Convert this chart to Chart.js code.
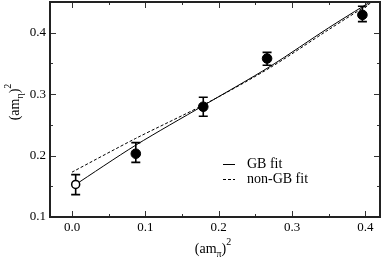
<!DOCTYPE html>
<html>
<head>
<meta charset="utf-8">
<script src="https://cdn.jsdelivr.net/npm/chart.js@4"></script>
<style>
html,body{margin:0;padding:0;background:#fff;}
#wrap{width:382px;height:258px;position:relative;}
</style>
</head>
<body>
<div id="wrap"><canvas id="c" width="382" height="258"></canvas></div>
<script>
// Data
const ptX = [0.087, 0.179, 0.266, 0.396];
const ptY = [0.203, 0.2795, 0.358, 0.429];
const ptLo = [0.189, 0.264, 0.347, 0.418];
const ptHi = [0.221, 0.295, 0.368, 0.443];
const openX = [0.005];
const openY = [0.153];
const openLo = [0.1365];
const openHi = [0.169];
const gbX = [0.0, 0.087, 0.18, 0.27, 0.35, 0.42];
const gbY = [0.149, 0.217, 0.282, 0.345, 0.408, 0.46];
const ngbX = [0.0, 0.087, 0.18, 0.27, 0.35, 0.42];
const ngbY = [0.173, 0.228, 0.283, 0.343, 0.405, 0.458];
const xTicks = [0.0, 0.1, 0.2, 0.3, 0.4];
const yTicks = [0.1, 0.2, 0.3, 0.4];
const legendLabels = ["GB fit", "non-GB fit"];

const FONT = '"Times New Roman", "Liberation Serif", Times, serif';
const toPts = (xs, ys) => xs.map((x, i) => ({x: x, y: ys[i]}));

const framePlugin = {
  id: 'frame',
  beforeDatasetsDraw(chart) {
    const ctx = chart.ctx, xs = chart.scales.x, ys = chart.scales.y;
    ctx.save();
    ctx.strokeStyle = '#000';
    ctx.lineWidth = 1.6;
    const drawErr = (xArr, loArr, hiArr) => {
      xArr.forEach((x, i) => {
        const px = xs.getPixelForValue(x);
        const lo = ys.getPixelForValue(loArr[i]);
        const hi = ys.getPixelForValue(hiArr[i]);
        ctx.beginPath();
        ctx.moveTo(px, lo); ctx.lineTo(px, hi);
        ctx.moveTo(px - 4.5, lo); ctx.lineTo(px + 4.5, lo);
        ctx.moveTo(px - 4.5, hi); ctx.lineTo(px + 4.5, hi);
        ctx.stroke();
      });
    };
    drawErr(ptX, ptLo, ptHi);
    drawErr(openX, openLo, openHi);
    ctx.restore();
  },
  afterDraw(chart) {
    const ctx = chart.ctx, a = chart.chartArea, xs = chart.scales.x, ys = chart.scales.y;
    ctx.save();
    ctx.strokeStyle = '#333';
    ctx.lineWidth = 1;
    const xMinor = [0.05, 0.15, 0.25, 0.35];
    const yMinor = [0.15, 0.25, 0.35];
    const tickX = (v, len) => {
      const px = Math.round(xs.getPixelForValue(v)) + 0.5;
      ctx.beginPath();
      ctx.moveTo(px, a.bottom); ctx.lineTo(px, a.bottom - len);
      ctx.moveTo(px, a.top); ctx.lineTo(px, a.top + len);
      ctx.stroke();
    };
    const tickY = (v, len) => {
      const py = Math.round(ys.getPixelForValue(v)) + 0.5;
      ctx.beginPath();
      ctx.moveTo(a.left, py); ctx.lineTo(a.left + len, py);
      ctx.moveTo(a.right, py); ctx.lineTo(a.right - len, py);
      ctx.stroke();
    };
    xTicks.forEach(v => tickX(v, 6));
    xMinor.forEach(v => tickX(v, 3));
    yTicks.forEach(v => tickY(v, 6));
    yMinor.forEach(v => tickY(v, 3));
    ctx.strokeStyle = '#222';
    ctx.lineWidth = 2;
    ctx.strokeRect(a.left, a.top, a.right - a.left, a.bottom - a.top);

    // tick labels
    ctx.fillStyle = '#000';
    ctx.font = '13px ' + FONT;
    ctx.textAlign = 'center';
    ctx.textBaseline = 'alphabetic';
    xTicks.forEach(v => ctx.fillText(v.toFixed(1), xs.getPixelForValue(v), 231));
    ctx.textAlign = 'right';
    ctx.textBaseline = 'middle';
    yTicks.forEach(v => ctx.fillText(v.toFixed(1), 46, ys.getPixelForValue(v)));

    // legend
    ctx.strokeStyle = '#000';
    ctx.lineWidth = 1;
    ctx.font = '14px ' + FONT;
    ctx.textBaseline = 'middle';
    ctx.textAlign = 'left';
    ctx.beginPath(); ctx.moveTo(223, 164.5); ctx.lineTo(235, 164.5); ctx.stroke();
    ctx.setLineDash([3, 2]);
    ctx.beginPath(); ctx.moveTo(223, 179.5); ctx.lineTo(235, 179.5); ctx.stroke();
    ctx.setLineDash([]);
    ctx.fillText(legendLabels[0], 247, 164);
    ctx.fillText(legendLabels[1], 247, 179);

    // axis titles with sub/superscripts
    const drawTitle = (parts) => {
      let w = 0;
      parts.forEach(p => { ctx.font = (p[1] === 'n' ? '14px ' : '10px ') + FONT; p.w = ctx.measureText(p[0]).width; w += p.w; });
      let x = -w / 2;
      ctx.textBaseline = 'alphabetic';
      ctx.textAlign = 'left';
      parts.forEach(p => {
        ctx.font = (p[1] === 'n' ? '14px ' : '10px ') + FONT;
        const dy = p[1] === 'sub' ? 4 : (p[1] === 'sup' ? -8 : 0);
        ctx.fillText(p[0], x, dy);
        x += p.w;
      });
    };
    ctx.save();
    ctx.translate(213, 253);
    drawTitle([['(am', 'n'], ['\u03C0', 'sub'], [')', 'n'], ['2', 'sup']]);
    ctx.restore();
    ctx.save();
    ctx.translate(19, 102);
    ctx.rotate(-Math.PI / 2);
    drawTitle([['(am', 'n'], ['\u03B7', 'sub'], [')', 'n'], ['2', 'sup']]);
    ctx.restore();
    ctx.restore();
  }
};

function build() {
  new Chart(document.getElementById('c'), {
    type: 'scatter',
    data: {
      datasets: [
        {label: legendLabels[0], data: toPts(gbX, gbY), showLine: true, borderColor: '#000', borderWidth: 1, pointRadius: 0, tension: 0.3, fill: false, order: 3},
        {label: legendLabels[1], data: toPts(ngbX, ngbY), showLine: true, borderColor: '#000', borderWidth: 1, borderDash: [3, 2], pointRadius: 0, tension: 0.3, fill: false, order: 2},
        {label: 'data', data: toPts(ptX, ptY), pointRadius: 4.8, pointBackgroundColor: '#000', pointBorderColor: '#000', pointBorderWidth: 1, order: 1},
        {label: 'open', data: toPts(openX, openY), pointRadius: 4, pointBackgroundColor: '#fff', pointBorderColor: '#000', pointBorderWidth: 1.5, order: 0}
      ]
    },
    options: {
      responsive: false,
      animation: false,
      layout: {autoPadding: false, padding: {top: 2, right: 2, left: 0, bottom: 0}},
      plugins: {legend: {display: false}, tooltip: {enabled: false}},
      scales: {
        x: {
          type: 'linear', min: -0.03, max: 0.42,
          grid: {display: false}, border: {display: false},
          afterBuildTicks: s => { s.ticks = xTicks.map(v => ({value: v})); },
          afterFit: s => { s.height = 41; },
          ticks: {display: false}
        },
        y: {
          type: 'linear', min: 0.1, max: 0.45,
          grid: {display: false}, border: {display: false},
          afterBuildTicks: s => { s.ticks = yTicks.map(v => ({value: v})); },
          afterFit: s => { s.width = 50; },
          ticks: {display: false}
        }
      }
    },
    plugins: [framePlugin]
  });
}
if (document.fonts && document.fonts.load) {
  Promise.all([document.fonts.load('14px "Times New Roman"'), document.fonts.load('14px "Liberation Serif"')]).then(build, build);
} else { build(); }
</script>
</body>
</html>
